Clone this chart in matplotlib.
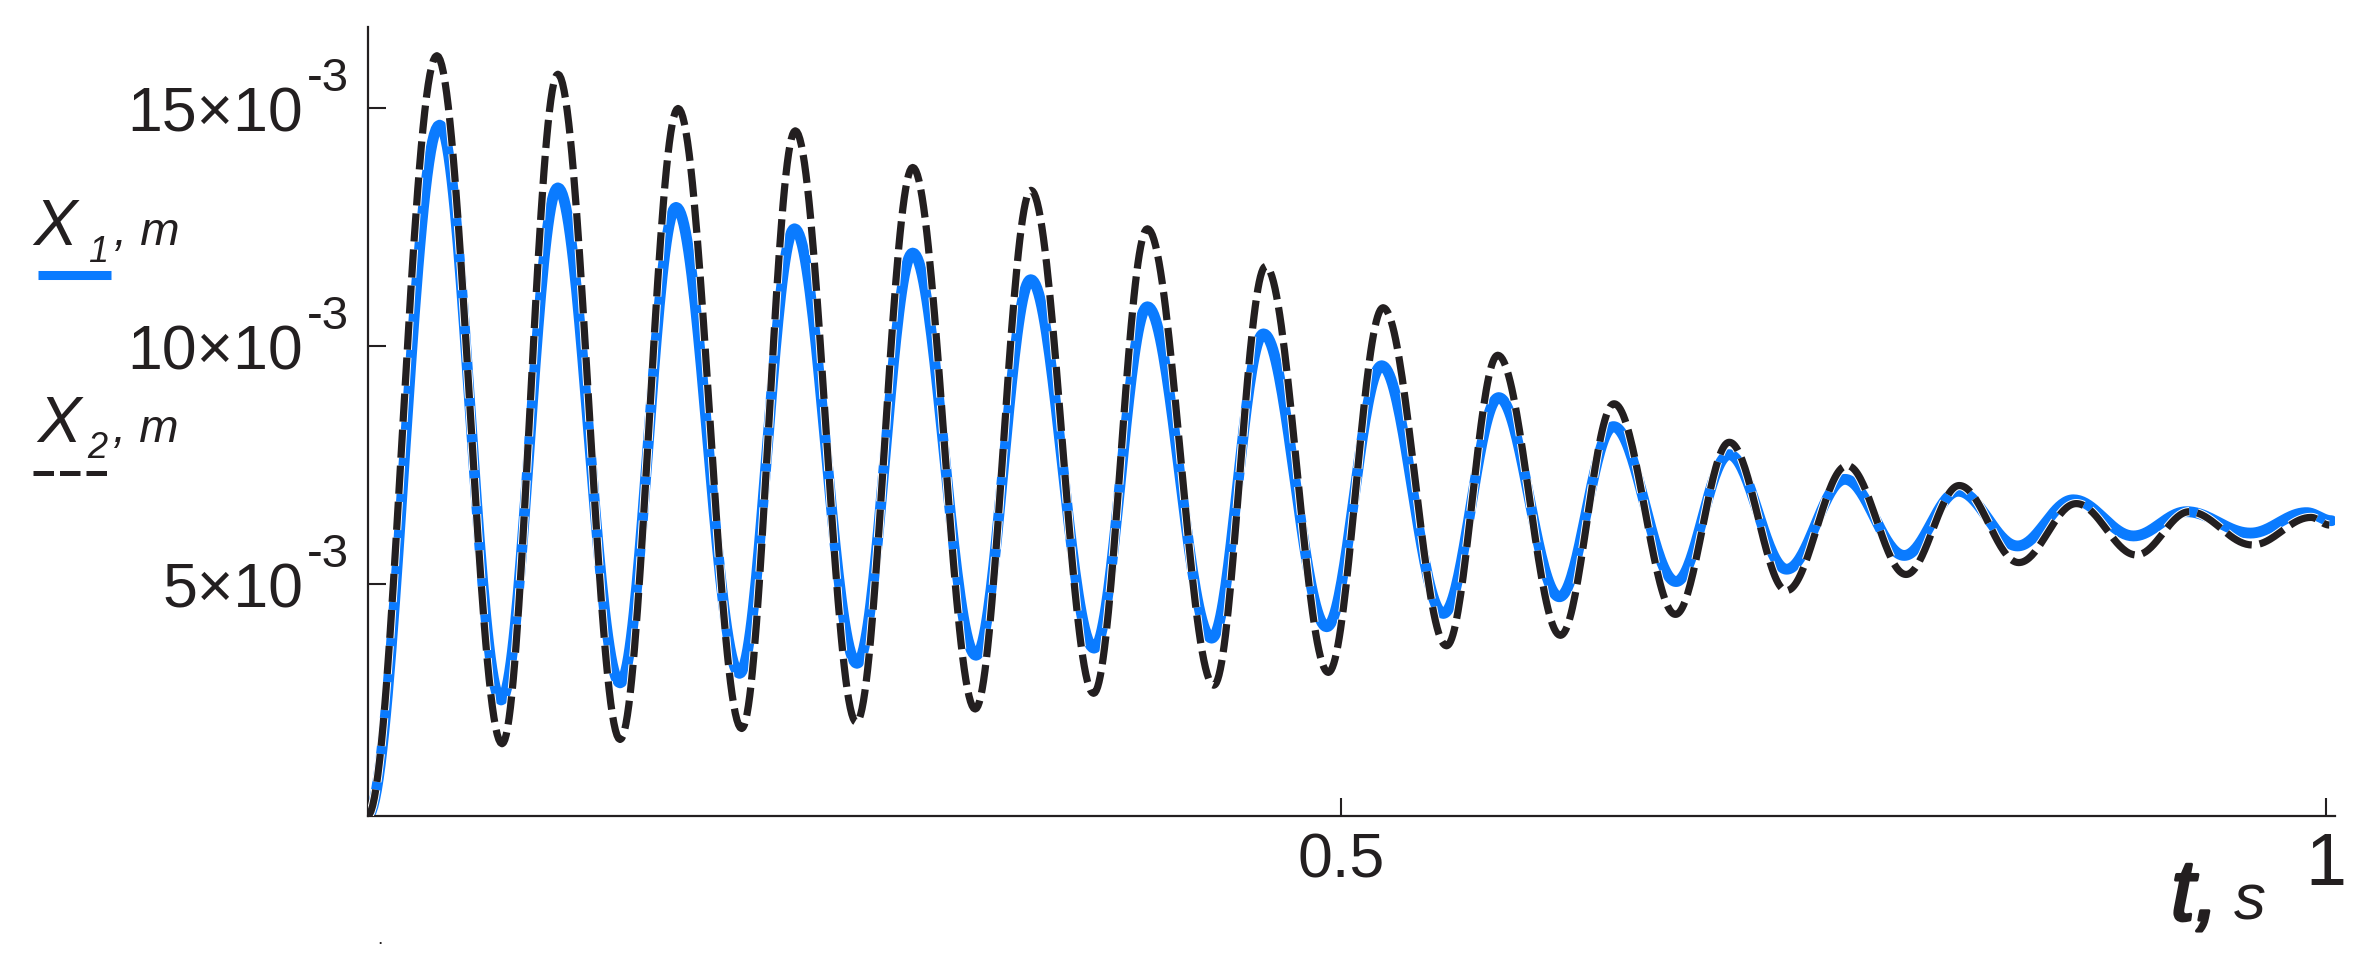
import numpy as np
import matplotlib.pyplot as plt
import matplotlib.patheffects as pe
from matplotlib.lines import Line2D

plt.rcParams['font.family'] = ['Liberation Sans', 'DejaVu Sans']

# turning points (peaks / troughs), t in s, X in 1e-3 m
t_x1 = [0.0061, 0.0427, 0.0739, 0.1027, 0.1343, 0.1627, 0.1949, 0.2228, 0.2545,
        0.2828, 0.3149, 0.3427, 0.3748, 0.4019, 0.4345, 0.4608, 0.4929, 0.5208,
        0.5521, 0.5802, 0.6110, 0.6384, 0.6702, 0.6971, 0.7263, 0.7559, 0.7860,
        0.8134, 0.8435, 0.8718, 0.9023, 0.9293, 0.9617, 0.9901, 1.0029]
x1 = [0.12, 14.65, 2.56, 13.33, 2.92, 12.92, 3.12, 12.47, 3.33, 11.96, 3.50,
      11.40, 3.65, 10.83, 3.86, 10.26, 4.10, 9.59, 4.38, 8.92, 4.73, 8.31, 5.05,
      7.72, 5.31, 7.20, 5.60, 6.95, 5.80, 6.77, 6.01, 6.52, 6.07, 6.50, 6.33]

t_x2 = [0.0061, 0.0413, 0.0744, 0.1027, 0.1343, 0.1637, 0.1960, 0.2232, 0.2542,
        0.2828, 0.3145, 0.3428, 0.3746, 0.4019, 0.4356, 0.4619, 0.4937, 0.5215,
        0.5537, 0.5797, 0.6115, 0.6387, 0.6699, 0.6972, 0.7262, 0.7570, 0.7869,
        0.8139, 0.8441, 0.8733, 0.9038, 0.9307, 0.9627, 0.9924, 1.0017]
x2 = [0.12, 16.11, 1.64, 15.72, 1.73, 15.00, 1.96, 14.53, 2.09, 13.76, 2.37,
      13.28, 2.70, 12.47, 2.87, 11.68, 3.14, 10.81, 3.70, 9.81, 3.92, 8.79, 4.36,
      7.98, 4.86, 7.49, 5.20, 7.07, 5.45, 6.69, 5.61, 6.52, 5.82, 6.40, 6.24]

y_ticks = [5e-3, 10e-3, 15e-3]
y_mant = ['5×10', '10×10', '15×10']
y_exp = '-3'
x_ticks = [0.5, 1.0]
x_ticklabels = ['0.5', '1']

W, H = 2369, 956
ink = '#231f20'
blue = '#0a7bff'


def smooth(tp, vp, n=40):
    # half-cosine between consecutive turning points
    ts, vs = [], []
    for i in range(len(tp) - 1):
        s = np.linspace(0, 1, n, endpoint=False)
        ts.append(tp[i] + (tp[i + 1] - tp[i]) * s)
        vs.append(vp[i] + (vp[i + 1] - vp[i]) * (1 - np.cos(np.pi * s)) / 2)
    ts.append([tp[-1]])
    vs.append([vp[-1]])
    return np.concatenate(ts), np.concatenate(vs) * 1e-3


def fx(x):
    return x / W


def fy(y):
    return 1 - y / H


fig = plt.figure(figsize=(W / 100, H / 100), dpi=100)
ax = fig.add_axes([fx(367.5), fy(816), fx(2335) - fx(367.5), fy(26.7) - fy(816)])

tb, vb = smooth(t_x1, x1)
tk, vk = smooth(t_x2, x2)
ax.plot(tb, vb, color=blue, lw=7.8, solid_capstyle='round', zorder=2)
ax.plot(tk, vk, color=ink, lw=5.2, dashes=(3.9, 1.1), dash_capstyle='butt', zorder=3,
        path_effects=[pe.Stroke(linewidth=6.6, foreground='white'), pe.Normal()])

ax.set_xlim(0.0061, 1.0046)
ax.set_ylim(0.12e-3, 16.72e-3)

for side in ['top', 'right']:
    ax.spines[side].set_visible(False)
for side in ['left', 'bottom']:
    ax.spines[side].set_linewidth(1.6)
    ax.spines[side].set_color(ink)

ax.set_yticks(y_ticks)
ax.set_yticklabels([])
ax.set_xticks(x_ticks)
ax.set_xticklabels(x_ticklabels)
ax.tick_params(axis='both', direction='in', length=13, width=1.5, color=ink,
               labelcolor=ink, labelsize=45)
ax.tick_params(axis='x', pad=11)
ax.get_xticklabels()[1].set_fontsize(53)

# y tick labels: mantissa plus raised exponent
for v, m in zip(y_ticks, y_mant):
    ax.annotate(m, xy=(0, v), xycoords=('axes fraction', 'data'), xytext=(-46.4, -16.6),
                textcoords='offset points', ha='right', va='baseline', fontsize=45,
                color=ink, annotation_clip=False)
    ax.annotate(y_exp, xy=(0, v), xycoords=('axes fraction', 'data'), xytext=(-44, 12.5),
                textcoords='offset points', ha='left', va='baseline', fontsize=34,
                color=ink, annotation_clip=False)

# axis label t, s
fig.text(fx(2171), fy(920), 't,', fontsize=62, fontstyle='italic', color=ink,
         va='baseline', path_effects=[pe.withStroke(linewidth=2.2, foreground=ink)])
fig.text(fx(2234), fy(920), 's', fontsize=46, fontstyle='italic', color=ink, va='baseline')

# hand made legend on the left
for (xx, yb, sub, xs, ys) in [(33, 245, '1', 88, 262), (37, 442, '2', 87, 458)]:
    fig.text(fx(xx), fy(yb), 'X', fontsize=47, fontstyle='italic', color=ink, va='baseline')
    fig.text(fx(xs), fy(ys), sub, fontsize=26, fontstyle='italic', color=ink, va='baseline')
    fig.text(fx(xs + 26), fy(yb), ', m', fontsize=34, fontstyle='italic', color=ink,
             va='baseline')

fig.add_artist(Line2D([fx(38), fx(111)], [fy(274.5), fy(274.5)], color=blue, lw=6.5,
                      solid_capstyle='butt'))
fig.add_artist(Line2D([fx(33), fx(107)], [fy(473), fy(473)], color=ink, lw=3.6,
                      dashes=(4.1, 1.2), dash_capstyle='butt'))

fig.text(fx(377), fy(944), '.', fontsize=14, color=ink)

fig.savefig('out.png', dpi=100)
